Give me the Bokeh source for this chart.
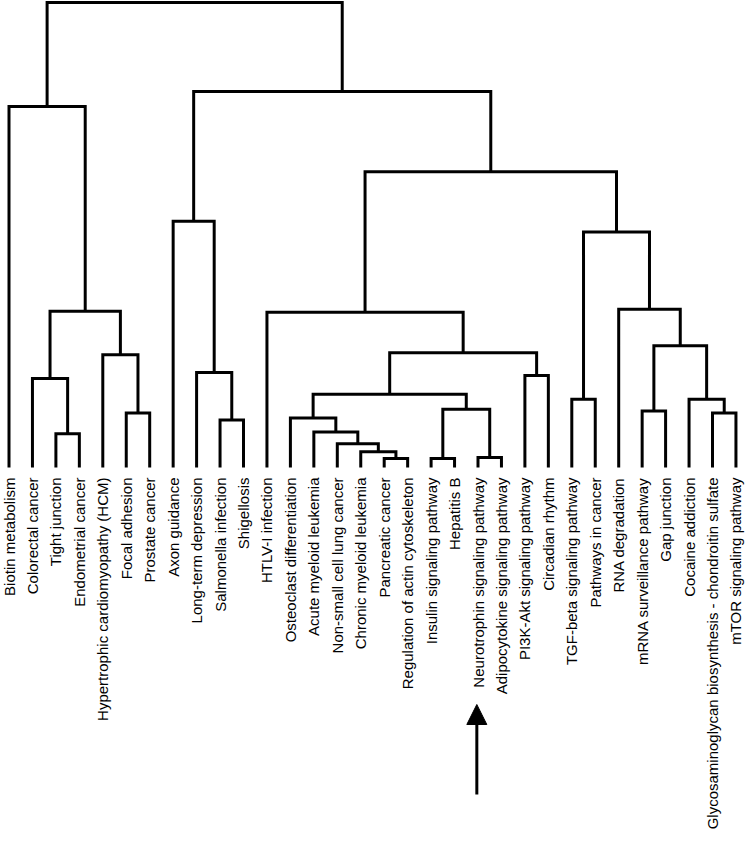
import numpy as np
from bokeh.plotting import figure
from bokeh.models import Range1d, Arrow, NormalHead
from bokeh.core.properties import value
from bokeh.embed import file_html
from bokeh.resources import INLINE

# Leaves in display order (left to right)
leaves = [
    "Biotin metabolism",
    "Colorectal cancer",
    "Tight junction",
    "Endometrial cancer",
    "Hypertrophic cardiomyopathy (HCM)",
    "Focal adhesion",
    "Prostate cancer",
    "Axon guidance",
    "Long-term depression",
    "Salmonella infection",
    "Shigellosis",
    "HTLV-I infection",
    "Osteoclast differentiation",
    "Acute myeloid leukemia",
    "Non-small cell lung cancer",
    "Chronic myeloid leukemia",
    "Pancreatic cancer",
    "Regulation of actin cytoskeleton",
    "Insulin signaling pathway",
    "Hepatitis B",
    "Neurotrophin signaling pathway",
    "Adipocytokine signaling pathway",
    "PI3K-Akt signaling pathway",
    "Circadian rhythm",
    "TGF-beta signaling pathway",
    "Pathways in cancer",
    "RNA degradation",
    "mRNA surveillance pathway",
    "Gap junction",
    "Cocaine addiction",
    "Glycosaminoglycan biosynthesis - chondroitin sulfate",
    "mTOR signaling pathway",
]

# Linkage (scipy style): new cluster ids start at len(leaves)
merge_left = [2, 1, 5, 4, 33, 0, 9, 8, 7, 16, 15, 14, 13, 12, 18, 20, 46, 45, 22, 49,
              11, 24, 27, 30, 29, 54, 26, 53, 52, 40, 37]
merge_right = [3, 32, 6, 34, 35, 36, 10, 38, 39, 17, 41, 42, 43, 44, 19, 21, 47, 48, 23, 50,
               51, 25, 28, 31, 55, 56, 57, 58, 59, 60, 61]
merge_height = [34, 90, 55, 114, 158, 365, 48, 96, 249, 9, 16, 24, 36, 50, 9, 10, 59, 74, 93, 116,
                157, 69, 57, 55, 69, 123, 160, 238, 299, 380, 470]

highlight = "Neurotrophin signaling pathway"

W, H = 745, 835
n = len(leaves)
px_x = 23.45
x0 = -8.5 / px_x
xr = Range1d(x0, x0 + W / px_x)
top_px, base_px = 2.0, 467.0
hmax = max(merge_height)
ky = (base_px - top_px) / hmax
yend = hmax + top_px / ky
yr = Range1d(yend - H / ky, yend)

p = figure(width=W, height=H, x_range=xr, y_range=yr, output_backend="svg",
           toolbar_location=None, x_axis_location=None, y_axis_location=None,
           min_border=0, outline_line_color=None, background_fill_color="white",
           border_fill_color="white")
p.grid.visible = False

pos = {i: (float(i), 0.0) for i in range(n)}
xs, ys = [], []
for k, (a, b, h) in enumerate(zip(merge_left, merge_right, merge_height)):
    xa, ya = pos[a]
    xb, yb = pos[b]
    xs.append([xa, xa, xb, xb])
    ys.append([ya, h, h, yb])
    pos[n + k] = ((xa + xb) / 2.0, float(h))

p.multi_line(xs, ys, line_color="black", line_width=3, line_join="miter")

label_y = -10.0 / ky
p.text(x=list(range(n)), y=[label_y] * n, text=leaves, angle=np.pi / 2,
       text_align="right", text_baseline="middle",
       text_font=value("Liberation Sans"), text_font_size="15px",
       text_color="black")

idx = leaves.index(highlight)
p.add_layout(Arrow(end=NormalHead(size=20, fill_color="black", line_color="black", line_width=1),
                   x_start=idx - 0.05, y_start=label_y - 317 / ky,
                   x_end=idx - 0.05, y_end=label_y - 227 / ky,
                   line_color="black", line_width=3))

open("out.html", "w").write(file_html(p, INLINE))
